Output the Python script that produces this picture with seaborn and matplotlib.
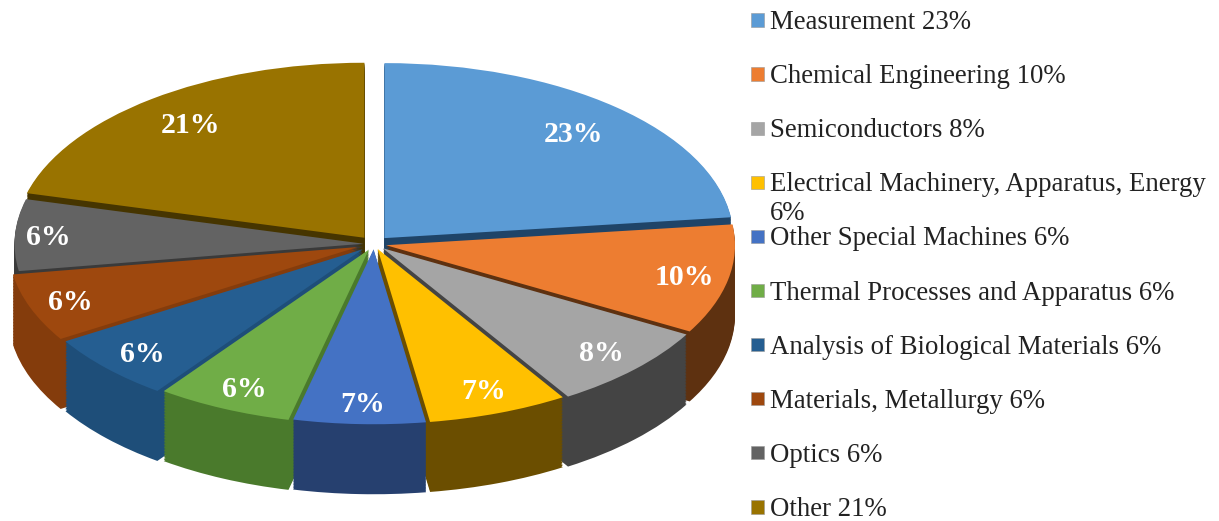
"""
Exploded 3D-style pie of patent field shares, with a text legend on the right
"""

import matplotlib
matplotlib.use('Agg')
import matplotlib.pyplot as plt
import numpy as np
import seaborn as sns

# Data
FIELDS = ['Measurement', 'Chemical Engineering', 'Semiconductors',
          'Electrical Machinery, Apparatus, Energy', 'Other Special Machines',
          'Thermal Processes and Apparatus', 'Analysis of Biological Materials',
          'Materials, Metallurgy', 'Optics', 'Other']
SHARES = [23.1, 10.1, 7.9, 6.5, 6.1, 6.3, 6.2, 6.3, 6.6, 20.9]
PIE_LABELS = ['23%', '10%', '8%', '7%', '7%', '6%', '6%', '6%', '6%', '21%']
LEGEND_PCT = ['23%', '10%', '8%', '6%', '6%', '6%', '6%', '6%', '6%', '21%']

# Colours
TOP_COLORS = ['#5B9BD5', '#ED7D31', '#A5A5A5', '#FFC000', '#4472C4',
              '#70AD47', '#255E91', '#9E480E', '#636363', '#997300']
WALL_COLORS = ['#1F4468', '#5E3110', '#444444', '#6B4E00', '#26406F',
               '#4A7A2C', '#1E4E79', '#843C0C', '#3A3A3A', '#463500']

# Geometry in pixels
W, H = 1219, 521
CX, CY = 374, 244
RX, RY = 349, 175
DEPTH = 70
LABEL_SHIFT = (2, 2)

# Per-slice tweaks, in units of the pie radius
EXPLODE = [0.045, 0.035, 0.035, 0.03, 0.03, 0.035, 0.045, 0.05, 0.03, 0.045]
LABEL_SCALE = [0.965, 1.03, 1.02, 1.02, 1.04, 1.03, 1.03, 1.05, 1.08, 0.985]

FONT = 'Liberation Serif'


def main():
    sns.set_theme(style='white')
    plt.rcParams['font.family'] = [FONT, 'DejaVu Sans']

    fig = plt.figure(figsize=(W / 100, H / 100), dpi=100)
    ax = fig.add_axes([0, 0, 1, 1])

    pie_kw = dict(startangle=90, counterclock=False, radius=1, frame=True,
                  explode=EXPLODE, wedgeprops=dict(linewidth=0))

    # Stack darker pies from the bottom up to fake the side walls
    for dz in np.arange(DEPTH, 0, -1.5):
        ax.pie(SHARES, colors=WALL_COLORS, center=(0, -dz / RY), **pie_kw)

    # Top face
    _, texts = ax.pie(SHARES, colors=TOP_COLORS, labels=PIE_LABELS,
                      labeldistance=0.84, **pie_kw)
    for t, scale in zip(texts, LABEL_SCALE):
        x, y = t.get_position()
        t.set_position((x * scale + LABEL_SHIFT[0] / RX, y * scale - LABEL_SHIFT[1] / RY))
        t.set(color='white', fontsize=21.5, fontweight='bold', family=FONT,
              ha='center', va='center')

    ax.set_aspect('auto')
    ax.set_xlim(-CX / RX, (W - CX) / RX)
    ax.set_ylim(-(H - CY) / RY, CY / RY)
    ax.axis('off')

    # Legend, laid out by hand since one entry wraps without moving the next
    leg = fig.add_axes([0, 0, 1, 1], facecolor='none')
    rows = 20 + 54.1 * np.arange(len(FIELDS))
    sns.scatterplot(x=[757.5] * len(FIELDS), y=rows, hue=FIELDS, palette=TOP_COLORS,
                    marker='s', s=92, linewidth=0.4, edgecolor='#999999',
                    legend=False, ax=leg)
    for y, name, pct in zip(rows, FIELDS, LEGEND_PCT):
        if name.startswith('Electrical'):
            label = f"{name}\n{pct}"
        else:
            label = f"{name} {pct}"
        leg.text(770, y - 10, label, fontsize=19.3, color='#222222', family=FONT,
                 va='top', ha='left', linespacing=1.2)
    leg.set_xlim(0, W)
    leg.set_ylim(H, 0)
    leg.axis('off')

    fig.savefig('out.png', dpi=100)
    plt.close(fig)


if __name__ == '__main__':
    main()
